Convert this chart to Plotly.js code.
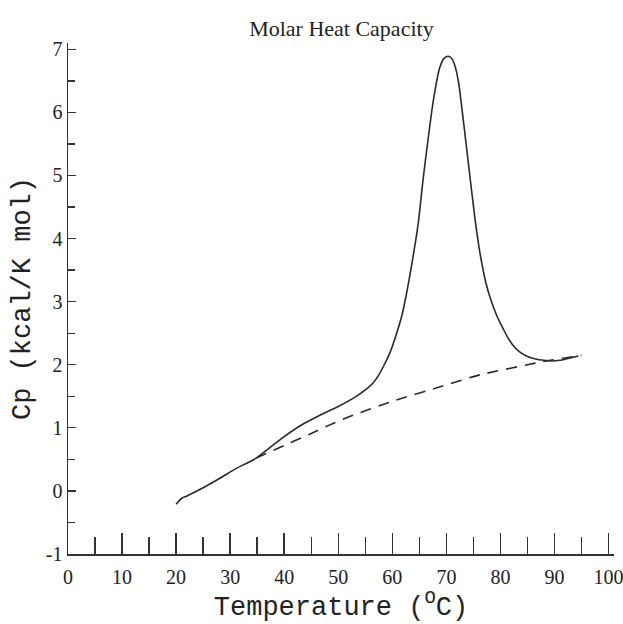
<!DOCTYPE html>
<html>
<head>
<meta charset="utf-8">
<script src="https://cdn.plot.ly/plotly-3.0.1.min.js"></script>
<style>html,body{margin:0;padding:0;background:#fff;}#chart{width:623px;height:624px;}</style>
</head>
<body>
<div id="chart"></div>
<script>
// Measured molar heat capacity (solid curve)
const tempMeasured = [20, 21, 22, 25, 28.1, 31, 34.8, 39.8, 43.5, 46.6, 49.8, 52.8, 55.3, 56.5, 57.5, 58.5, 59.6, 60.8, 61.7, 62.4, 63.2, 64.0, 64.8, 65.7, 66.5, 67.6, 68.8, 69.6, 70.4, 71.1, 71.6, 72.2, 73.3, 74.3, 75.3, 76.0, 76.5, 77.3, 78.1, 79.3, 80.5, 81.5, 82.5, 83.6, 85, 86.5, 88, 89.5, 91, 92.5, 94.4];
const cpMeasured   = [-0.21, -0.12, -0.08, 0.05, 0.2, 0.35, 0.52, 0.85, 1.06, 1.2, 1.33, 1.47, 1.62, 1.72, 1.84, 2.0, 2.2, 2.5, 2.76, 3.03, 3.4, 3.8, 4.25, 4.95, 5.5, 6.2, 6.72, 6.86, 6.89, 6.84, 6.73, 6.5, 5.75, 5.02, 4.3, 3.88, 3.63, 3.3, 3.06, 2.78, 2.57, 2.41, 2.29, 2.2, 2.13, 2.09, 2.07, 2.06, 2.07, 2.1, 2.14];
// Baseline (dashed curve)
const tempBaseline = [34.8, 40, 45, 48.5, 52.7, 60, 68.8, 76.2, 85, 87.9, 95];
const cpBaseline   = [0.52, 0.72, 0.91, 1.05, 1.2, 1.42, 1.65, 1.84, 2.0, 2.05, 2.15];
// Axis ticks
const xTickVals = [0, 10, 20, 30, 40, 50, 60, 70, 80, 90, 100];
const xMinorVals = [5, 15, 25, 35, 45, 55, 65, 75, 85, 95];
const yTickVals = [-1, 0, 1, 2, 3, 4, 5, 6, 7];

const serifFamily = '"Liberation Serif", "DejaVu Serif", serif';
const tickFont = {family: serifFamily, size: 20, color: '#222'};
const monoFont = {family: '"Liberation Mono", "DejaVu Sans Mono", monospace', size: 27, color: '#222'};

const traces = [
  {x: tempMeasured, y: cpMeasured, mode: 'lines', line: {color: '#2a2a2a', width: 1.6, shape: 'spline', smoothing: 0.8}, hoverinfo: 'skip'},
  {x: tempBaseline, y: cpBaseline, mode: 'lines', line: {color: '#2a2a2a', width: 1.6, dash: '11px,8px', shape: 'spline', smoothing: 0.6}, hoverinfo: 'skip'}
];

const layout = {
  width: 623, height: 624,
  margin: {l: 68, r: 9, t: 43, b: 70},
  paper_bgcolor: '#fff', plot_bgcolor: '#fff',
  showlegend: false,
  title: {text: 'Molar Heat Capacity', font: {family: serifFamily, size: 22, color: '#222'}, x: 0.548, xanchor: 'center', y: 0.955, yanchor: 'middle'},
  xaxis: {
    range: [0, 101], tickvals: xTickVals, ticktext: xTickVals.map(String),
    ticks: 'inside', ticklen: 21, tickwidth: 1.5, tickcolor: '#333',
    minor: {tickvals: xMinorVals, ticks: 'inside', ticklen: 17, tickwidth: 1.5, tickcolor: '#333', showgrid: false},
    showline: true, linecolor: '#333', linewidth: 1.5, showgrid: false, zeroline: false,
    tickfont: tickFont, ticklabelstandoff: 4, ticklabeloverflow: 'allow',
    title: {text: 'Temperature (<sup>O</sup>C)', font: monoFont, standoff: 4}
  },
  yaxis: {
    range: [-1, 7.1], tickvals: yTickVals, ticktext: yTickVals.map(String),
    ticks: 'inside', ticklen: 8, tickwidth: 1.3, tickcolor: '#333',
    minor: {dtick: 0.5, tick0: 0, ticks: 'inside', ticklen: 7, tickwidth: 1.3, tickcolor: '#333', showgrid: false},
    showline: true, linecolor: '#333', linewidth: 1.5, showgrid: false, zeroline: false,
    tickfont: tickFont, ticklabeloverflow: 'allow',
    title: {text: 'Cp (kcal/K mol)', font: monoFont, standoff: 7}
  }
};

Plotly.newPlot('chart', traces, layout, {displayModeBar: false, staticPlot: true});
</script>
</body>
</html>
